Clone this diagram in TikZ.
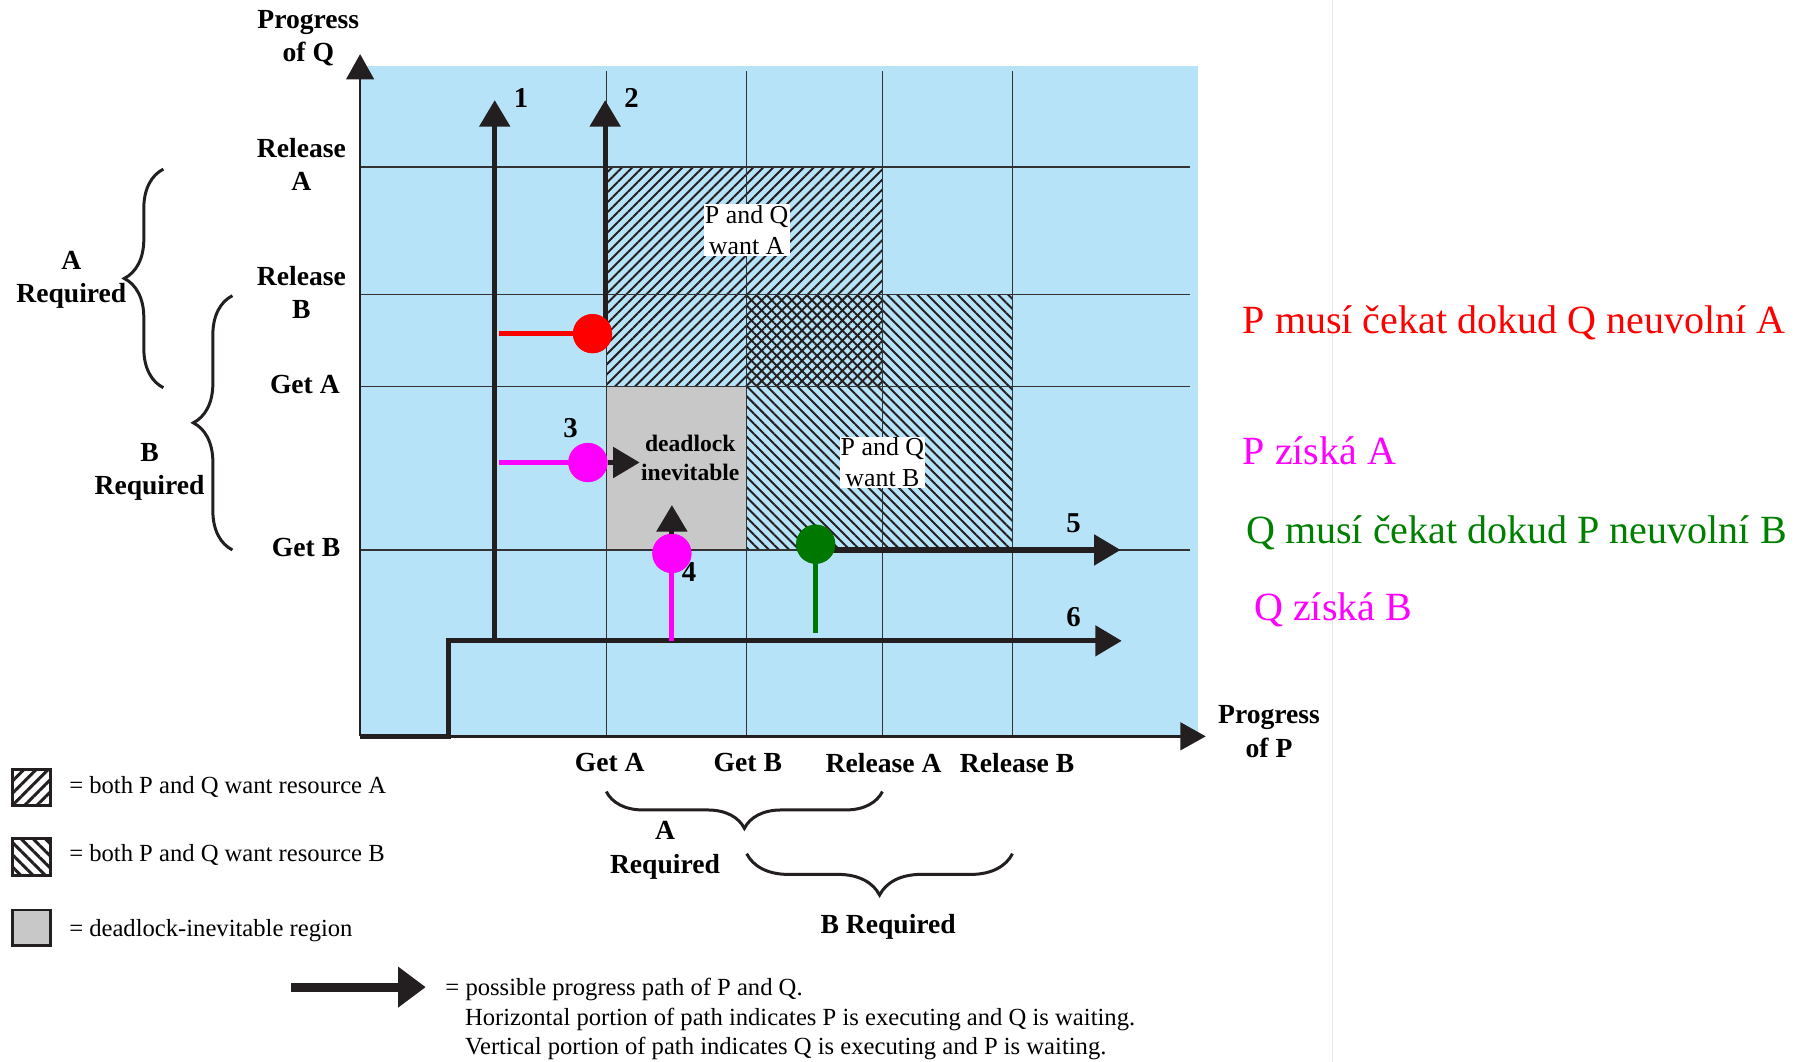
\documentclass[tikz,border=0pt]{standalone}
\usepackage{fontspec}
\setmainfont{Liberation Serif}
\usetikzlibrary{arrows.meta,patterns.meta,decorations.pathreplacing}
\definecolor{plotblue}{RGB}{183,227,248}
\definecolor{gridc}{RGB}{50,50,50}
\definecolor{pathc}{RGB}{35,31,32}
\definecolor{deadgray}{RGB}{200,200,200}
\definecolor{mred}{RGB}{255,0,0}
\definecolor{mmag}{RGB}{255,0,255}
\definecolor{mgreen}{RGB}{0,128,0}
\definecolor{dgreen}{RGB}{0,120,0}
\begin{document}
\begin{tikzpicture}[x=1pt,y=-1pt,
  gridline/.style={line width=1.3pt, draw=gridc},
  axisline/.style={line width=2.2pt, draw=pathc, -{Triangle[length=22pt,width=24pt]}},
  progpath/.style={line width=4.5pt, draw=pathc},
  tipped/.style={-{Triangle[length=23pt,width=26pt]}},
  colline/.style={line width=4.5pt},
  dot/.style={circle, minimum size=34pt, inner sep=0pt, draw=none},
  lbl/.style={font=\fontsize{24}{29}\selectfont\bfseries, align=center, inner sep=0pt},
  num/.style={font=\fontsize{25}{29}\selectfont\bfseries, inner sep=0pt},
  region/.style={font=\fontsize{22.5}{27}\selectfont, align=center, fill=white, inner sep=1pt},
  legtext/.style={font=\fontsize{21.4}{25}\selectfont, anchor=west, inner sep=0pt},
  note/.style={font=\fontsize{34.8}{40}\selectfont, anchor=west, inner sep=0pt},
  bracestyle/.style={decorate, line width=2.6pt, draw=pathc},
  hatchA/.style={pattern={Lines[angle=45,distance=6.2pt,line width=1.7pt]}, pattern color=pathc},
  hatchB/.style={pattern={Lines[angle=-45,distance=6.2pt,line width=1.7pt]}, pattern color=pathc},
  legbox/.style={draw=pathc, line width=2.4pt},
]
\useasboundingbox (0,0) rectangle (1568,923);
\fill[white] (0,0) rectangle (1568,923);
\draw[gray!18, line width=1pt] (1158,0) -- (1158,923);

% plot area
\fill[plotblue] (313,57) rectangle (1041,640);
\fill[deadgray] (527,336) rectangle (649,478);
\fill[hatchA] (527,145) rectangle (767,336);
\fill[hatchB] (649,256) rectangle (880,478);

% grid
\foreach \gx in {527,649,767,880} \draw[gridline] (\gx,62) -- (\gx,640);
\foreach \gy in {145,256,336,478} \draw[gridline] (313,\gy) -- (1034,\gy);

% axes
\coordinate (O) at (313,640);
\coordinate (ytip) at (313,47);
\coordinate (xtip) at (1048,640);
\draw[axisline] (O) -- (ytip);
\draw[axisline] (O) -- (xtip);

% path 6
\coordinate (p6a) at (390,640);
\coordinate (p6b) at (390,557);
\coordinate (p6tip) at (975,557);
\draw[progpath, tipped, line join=miter] (O) -- (p6a) -- (p6b) -- (p6tip);
% path 1
\coordinate (p1s) at (430,557);
\coordinate (p1tip) at (430,87);
\draw[progpath, tipped] (p1s) -- (p1tip);
% path 2
\coordinate (p2s) at (526,290);
\coordinate (p2tip) at (526,87);
\draw[progpath, tipped] (p2s) -- (p2tip);

% red
\coordinate (rs) at (434,290);
\node[dot, fill=mred] (dR) at (515,290) {};
\draw[colline, mred] (rs) -- (dR.center);
\node[dot, fill=mred] at (dR) {};

% magenta 3
\coordinate (m3s) at (434,402);
\coordinate (m3tip) at (556,402);
\node[dot, fill=mmag] (d3) at (511,402) {};
\draw[colline, mmag] (m3s) -- (d3.center);
\node[dot, fill=mmag] at (d3) {};
\draw[progpath, tipped] (d3.east) -- (m3tip);

% magenta 4
\coordinate (m4s) at (584,557);
\coordinate (m4tip) at (584,439);
\node[dot, fill=mmag] (d4) at (584,481) {};
\draw[colline, mmag] (m4s) -- (d4.center);
\node[dot, fill=mmag] at (d4) {};
\draw[progpath, tipped] (d4.north) -- (m4tip);

% green / path 5
\coordinate (gs) at (709,550);
\coordinate (p5s) at (709,478);
\coordinate (p5tip) at (974,478);
\draw[progpath, tipped] (p5s) -- (p5tip);
\node[dot, fill=dgreen] (dG) at (709,473) {};
\draw[colline, dgreen] (gs) -- (dG.center);
\node[dot, fill=dgreen] at (dG) {};

% region labels
\node[region] (wantA) at (649,200) {P and Q\\want A};
\node[region] (wantB) at (767,402) {P and Q\\want B};
\node[font=\fontsize{20.5}{26}\selectfont\bfseries, align=center, inner sep=0pt] (dead) at (600,398) {deadlock\\inevitable};

% path numbers
\node[num] (n1) at (453,85) {1};
\node[num] (n2) at (549,85) {2};
\node[num] (n3) at (496,372) {3};
\node[num] (n4) at (599,497) {4};
\node[num] (n5) at (933,455) {5};
\node[num] (n6) at (933,536) {6};

% axis labels
\node[lbl] (pQ) at (268,33) {Progress\\of Q};
\node[lbl] (yRA) at (262,143) {Release\\A};
\node[lbl] (yRB) at (262,254) {Release\\B};
\node[lbl] (yGA) at (265,334) {Get A};
\node[lbl] (yGB) at (266,476) {Get B};
\node[lbl] (xGA) at (530,663) {Get A};
\node[lbl] (xGB) at (650,663) {Get B};
\node[lbl] (xRA) at (768,663) {Release A};
\node[lbl] (xRB) at (884,663) {Release B};
\node[lbl] (pP) at (1103,636) {Progress\\of P};

% braces
\draw[bracestyle, decoration={brace, amplitude=34pt}] (142,337) -- (142,147);
\draw[bracestyle, decoration={brace, amplitude=34pt}] (202,478) -- (202,257);
\draw[bracestyle, decoration={brace, amplitude=32pt}] (767,688) -- (527,688);
\draw[bracestyle, decoration={brace, amplitude=36pt}] (880,742) -- (649,742);
\node[lbl] (reqA1) at (62,243) {A\\Required};
\node[lbl] (reqB1) at (130,410) {B\\Required};
\node[lbl] (reqA2) at (578,739) {A\\Required};
\node[lbl] (reqB2) at (772,806) {B Required};

% legend
\draw[legbox, fill=white] (11,669) rectangle (44,700);
\fill[pattern={Lines[angle=45,distance=7.5pt,line width=2.6pt]}, pattern color=pathc] (11,669) rectangle (44,700);
\draw[legbox] (11,669) rectangle (44,700);
\draw[legbox, fill=white] (11,729) rectangle (44,761);
\fill[pattern={Lines[angle=-45,distance=7.5pt,line width=2.6pt]}, pattern color=pathc] (11,729) rectangle (44,761);
\draw[legbox] (11,729) rectangle (44,761);
\draw[legbox, fill=deadgray] (11,791) rectangle (44,822);
\node[legtext] (lg1) at (60,684) {= both P and Q want resource A};
\node[legtext] (lg2) at (60,743) {= both P and Q want resource B};
\node[legtext] (lg3) at (60,809) {= deadlock-inevitable region};
\coordinate (la) at (253,858);
\coordinate (lb) at (370,858);
\draw[line width=8pt, draw=pathc, -{Triangle[length=24pt,width=34pt]}] (la) -- (lb);
\node[legtext] (lg4) at (387,860) {= possible progress path of P and Q.};
\node[legtext] (lg5) at (404,886) {Horizontal portion of path indicates P is executing and Q is waiting.};
\node[legtext] (lg6) at (404,911) {Vertical portion of path indicates Q is executing and P is waiting.};

% notes
\node[note, text=mred] (t1) at (1080,281) {P musí čekat dokud Q neuvolní A};
\node[note, text=mmag] (t2) at (1080,392) {P získá A};
\node[note, text=mgreen] (t3) at (1083,463) {Q musí čekat dokud P neuvolní B};
\node[note, text=mmag] (t4) at (1090,530) {Q získá B};
\end{tikzpicture}
\end{document}
